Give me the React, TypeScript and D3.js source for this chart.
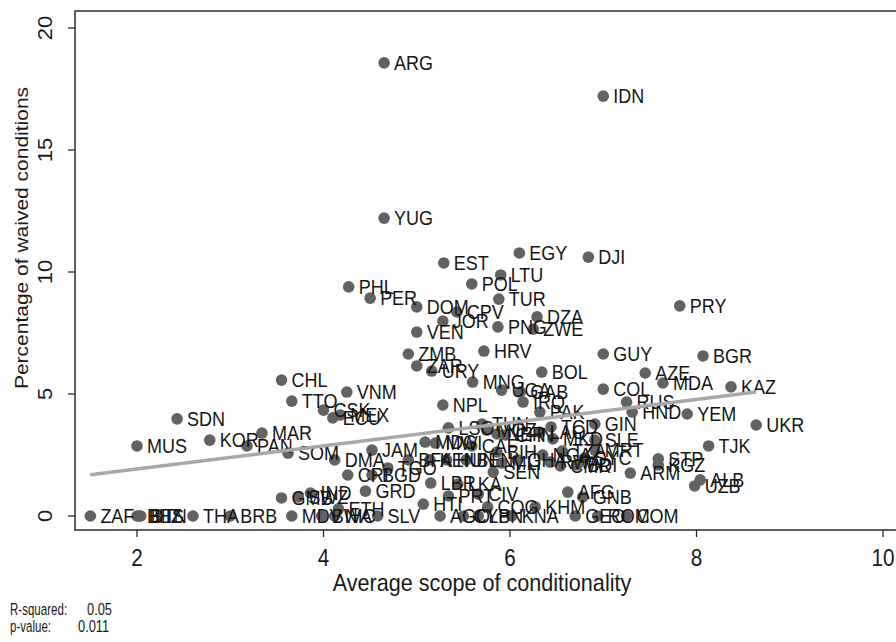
import React, { useEffect, useRef } from 'react'
import * as d3 from 'd3'

// country codes, average scope of conditionality, % of waived conditions
const codes = [
  'ARG', 'IDN', 'YUG', 'EST', 'EGY', 'DJI', 'LTU', 'POL', 'PHL', 'PER',
  'DOM', 'TUR', 'CPV', 'JOR', 'VEN', 'PNG', 'DZA', 'ZWE', 'PRY', 'ZMB',
  'HRV', 'GUY', 'BGR', 'ZAR', 'URY', 'MNG', 'UGA', 'GAB', 'BOL', 'IRQ',
  'PAK', 'NPL', 'CHL', 'TTO', 'VNM', 'CSK', 'ECU', 'MEX', 'SDN', 'MUS',
  'KOR', 'MAR', 'PAN', 'SOM', 'GMB', 'SWZ', 'IND', 'ZAF', 'BHS', 'BLZ',
  'BTN', 'THA', 'BRB', 'MDV', 'BWA', 'NIC', 'SLV', 'ETH', 'HTI', 'AGO',
  'CYP', 'LBN', 'KNA', 'COG', 'KHM', 'GEO', 'ROM', 'COM', 'AFG', 'GNB',
  'ARM', 'STP', 'KGZ', 'ALB', 'UZB', 'TJK', 'UKR', 'KAZ', 'YEM', 'MDA',
  'AZE', 'COL', 'RUS', 'HND', 'JAM', 'DMA', 'CRI', 'BGD', 'TGO', 'GRD',
  'LBR', 'LKA', 'PRT', 'CIV', 'SEN', 'LSO', 'TUN', 'MOZ', 'NER', 'CHN',
  'MDG', 'MWI', 'CAF', 'BFA', 'KEN', 'HUN', 'BEN', 'BIH', 'GHA', 'MLI',
  'TCD', 'LAO', 'GIN', 'MKD', 'SLE', 'TZA', 'MRT', 'BDI', 'NGA', 'RWA',
  'CMR', 'SYC',
]

const scope = [
  4.65, 7.0, 4.65, 5.29, 6.1, 6.84, 5.9, 5.59, 4.27, 4.5,
  5.0, 5.88, 5.43, 5.28, 5.0, 5.87, 6.29, 6.25, 7.82, 4.91,
  5.72, 7.0, 8.07, 5.0, 5.16, 5.6, 5.91, 6.11, 6.34, 6.14,
  6.32, 5.28, 3.55, 3.66, 4.25, 4.0, 4.1, 4.18, 2.43, 2.0,
  2.78, 3.34, 3.18, 3.62, 3.55, 3.73, 3.86, 1.5, 2.0, 2.02,
  2.04, 2.6, 3.0, 3.66, 3.98, 4.12, 4.58, 4.16, 5.07, 5.25,
  5.5, 5.66, 6.02, 5.76, 6.27, 6.7, 6.94, 7.25, 6.62, 6.78,
  7.29, 7.59, 7.59, 8.04, 7.98, 8.13, 8.64, 8.37, 7.9, 7.64,
  7.45, 7.0, 7.25, 7.31, 4.52, 4.12, 4.26, 4.52, 4.69, 4.45,
  5.15, 5.44, 5.34, 5.66, 5.82, 5.34, 5.7, 5.75, 5.86, 5.95,
  5.09, 5.2, 5.59, 4.91, 5.14, 5.32, 5.53, 5.86, 6.08, 5.91,
  6.44, 6.32, 6.91, 6.46, 6.91, 6.56, 6.91, 6.72, 6.35, 6.43,
  6.54, 6.8,
]

const waived = [
  18.57, 17.21, 12.21, 10.37, 10.78, 10.61, 9.88, 9.51, 9.39, 8.93,
  8.57, 8.89, 8.36, 7.99, 7.54, 7.75, 8.16, 7.66, 8.61, 6.64,
  6.76, 6.64, 6.56, 6.15, 5.94, 5.49, 5.16, 5.08, 5.9, 4.67,
  4.26, 4.55, 5.57, 4.71, 5.08, 4.34, 4.02, 4.14, 3.98, 2.87,
  3.11, 3.4, 2.87, 2.58, 0.74, 0.78, 0.94, 0, 0, 0,
  0, 0, 0, 0, 0, 0, 0, 0.29, 0.49, 0,
  0, 0, 0, 0.37, 0.37, 0, 0, 0, 0.98, 0.78,
  1.76, 2.34, 2.09, 1.48, 1.23, 2.87, 3.73, 5.29, 4.18, 5.45,
  5.86, 5.2, 4.67, 4.26, 2.7, 2.3, 1.68, 1.68, 1.97, 1.02,
  1.35, 1.31, 0.82, 0.9, 1.8, 3.61, 3.77, 3.52, 3.36, 3.32,
  3.03, 2.99, 2.87, 2.3, 2.3, 2.3, 2.3, 2.62, 2.3, 2.17,
  3.65, 3.44, 3.77, 3.16, 3.11, 2.66, 2.7, 2.09, 2.5, 2.21,
  2.05, 2.38,
]

const xTicks = [2, 4, 6, 8, 10]
const yTicks = [0, 5, 10, 15, 20]

// linear fit as drawn in the picture
const fitIntercept = 0.975
const fitSlope = 0.475

const statLabels = ['R-squared:', 'p-value:']
const statValues = ['0.05', '0.011']

const font = 'Arial, "Liberation Sans", sans-serif'
const squeeze = 0.9 // the original text looks a bit condensed

export default function App() {
  const ref = useRef<SVGSVGElement>(null)

  useEffect(() => {
    const svg = d3.select(ref.current)
    svg.selectAll('*').remove()

    const frame = { left: 75, top: 11, bottom: 530, right: 940 }

    const x = d3.scaleLinear().domain([2, 10]).range([137, 883])
    const y = d3.scaleLinear().domain([0, 20]).range([516, 28])

    const data = codes.map((c, i) => ({ code: c, sx: scope[i], wv: waived[i] }))

    // plot frame
    svg.append('rect')
      .attr('x', frame.left)
      .attr('y', frame.top)
      .attr('width', frame.right - frame.left)
      .attr('height', frame.bottom - frame.top)
      .attr('fill', 'none')
      .attr('stroke', '#2b2b2b')
      .attr('stroke-width', 1.5)

    // y axis ticks + rotated labels
    const yg = svg.append('g')
    yTicks.forEach(t => {
      yg.append('line')
        .attr('x1', frame.left).attr('x2', frame.left - 7)
        .attr('y1', y(t)).attr('y2', y(t))
        .attr('stroke', '#2b2b2b').attr('stroke-width', 1.3)
      yg.append('text')
        .attr('transform', `translate(52, ${y(t)}) scale(${squeeze},1) rotate(-90)`)
        .attr('text-anchor', 'middle')
        .attr('font-family', font)
        .attr('font-size', 22)
        .attr('fill', '#1a1a1a')
        .text(t)
    })

    svg.append('text')
      .attr('transform', `translate(28, 238) scale(${squeeze},1) rotate(-90)`)
      .attr('text-anchor', 'middle')
      .attr('font-family', font)
      .attr('font-size', 21)
      .attr('fill', '#1a1a1a')
      .text('Percentage of waived conditions')

    // x axis ticks + labels
    const xg = svg.append('g')
    xTicks.forEach(t => {
      xg.append('line')
        .attr('x1', x(t)).attr('x2', x(t))
        .attr('y1', frame.bottom).attr('y2', frame.bottom + 7)
        .attr('stroke', '#2b2b2b').attr('stroke-width', 1.3)
      xg.append('text')
        .attr('transform', `translate(${x(t)}, 566) scale(${squeeze},1)`)
        .attr('text-anchor', 'middle')
        .attr('font-family', font)
        .attr('font-size', 23)
        .attr('fill', '#1a1a1a')
        .text(t)
    })

    svg.append('text')
      .attr('transform', `translate(482, 591) scale(${squeeze},1)`)
      .attr('text-anchor', 'middle')
      .attr('font-family', font)
      .attr('font-size', 24)
      .attr('fill', '#1a1a1a')
      .text('Average scope of conditionality')

    // points and their labels
    const pts = svg.append('g')
    pts.selectAll('circle')
      .data(data)
      .join('circle')
      .attr('cx', d => x(d.sx))
      .attr('cy', d => y(d.wv))
      .attr('r', 5.8)
      .attr('fill', '#626262')

    pts.selectAll('text')
      .data(data)
      .join('text')
      .attr('transform', d => `translate(${x(d.sx) + 10}, ${y(d.wv)}) scale(${squeeze},1)`)
      .attr('dy', '0.36em')
      .attr('font-family', font)
      .attr('font-size', 20)
      .attr('fill', '#151515')
      .text(d => d.code)

    // fitted line over the scatter
    const [xMin, xMax] = d3.extent(scope) as [number, number]
    const fit = d3.line<number>()
      .x(v => x(v))
      .y(v => y(fitIntercept + fitSlope * v))
    svg.append('path')
      .attr('d', fit([xMin, xMax]))
      .attr('fill', 'none')
      .attr('stroke', '#a8a8a8')
      .attr('stroke-width', 3.5)

    // regression stats
    statLabels.forEach((s, i) => {
      const ty = 615 + i * 17
      svg.append('text')
        .attr('transform', `translate(10, ${ty}) scale(0.7,1)`)
        .attr('font-family', font).attr('font-size', 16.5)
        .attr('fill', '#1a1a1a')
        .text(s)
      svg.append('text')
        .attr('transform', `translate(${i === 0 ? 87 : 78}, ${ty}) scale(0.78,1)`)
        .attr('font-family', font).attr('font-size', 16.5)
        .attr('fill', '#1a1a1a')
        .text(statValues[i])
    })
  }, [])

  return (
    <svg
      ref={ref}
      width={896}
      height={642}
      style={{ position: 'absolute', left: 0, top: 0, background: '#fff' }}
    />
  )
}
